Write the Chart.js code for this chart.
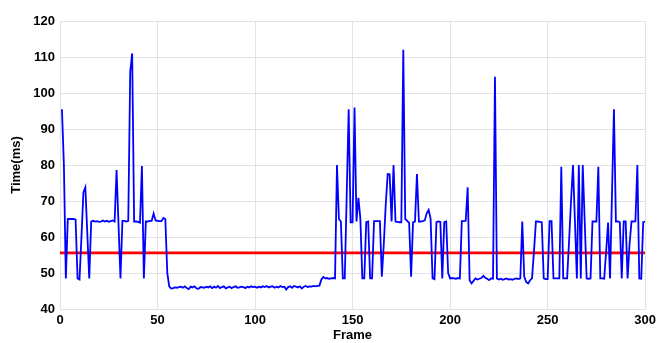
<!DOCTYPE html>
<html>
<head>
<meta charset="utf-8">
<script src="https://cdn.jsdelivr.net/npm/chart.js@4/dist/chart.umd.min.js"></script>
<style>
  html, body { margin: 0; padding: 0; background: #fff; }
  #wrap { width: 660px; height: 343px; }
</style>
</head>
<body>
<div id="wrap"><canvas id="grafica" width="660" height="343"></canvas></div>
<script>
// ── Datos: tiempo por frame (ms) ─────────────────────────────────────────────
const timeA = [ // frames 1-100
    95.5, 80, 48.5, 65, 65, 65, 65, 64.8, 48.5, 48.2,
    60, 72.4, 73.8, 61, 48.5, 64.3, 64.5, 64.3, 64.4, 64.2,
    64.3, 64.6, 64.3, 64.5, 64.2, 64.4, 64.6, 64.3, 78.6, 63.5,
    48.5, 64.5, 64.5, 64.3, 64.5, 105.9, 111, 64.3, 64.3, 64.2,
    64.0, 79.7, 48.5, 64.3, 64.3, 64.5, 64.5, 66.5, 64.6, 64.5,
    64.4, 64.4, 65.3, 65.0, 50, 46.3, 45.7, 45.8, 46.0, 45.9,
    46.1, 46.2, 45.9, 46.3, 45.8, 45.5, 46.2, 46.0, 46.3, 45.7,
    45.6, 46.1, 46.0, 45.9, 46.2, 46.0, 46.3, 45.8, 46.2, 45.9,
    46.4, 45.8, 46.1, 46.3, 45.7, 46.0, 46.2, 45.8, 46.1, 46.3,
    45.9, 46.0, 46.2, 46.1, 45.8, 46.2, 46.0, 46.3, 46.1, 46.2
];
const timeB = [ // frames 101-200
    45.9, 46.2, 46.0, 46.3, 46.1, 46.4, 46.0, 46.2, 46.3, 45.9,
    46.2, 46.0, 46.4, 46.1, 46.2, 45.4, 46.1, 46.3, 45.9, 46.4,
    46.2, 46.0, 46.3, 45.7, 46.2, 46.4, 46.1, 46.3, 46.2, 46.4,
    46.3, 46.4, 46.5, 48.2, 48.9, 48.5, 48.6, 48.4, 48.5, 48.6,
    48.5, 80, 65, 64.3, 48.5, 48.5, 72, 95.5, 64.1, 64.1,
    96, 64.3, 70.9, 65, 48.5, 48.5, 64.1, 64.3, 48.5, 48.5,
    64.4, 64.4, 64.4, 64.4, 49, 58, 69, 77.5, 77.4, 64.3,
    80, 64.3, 64.2, 64.1, 64.1, 112, 65, 64.5, 63.9, 49,
    64.1, 64.3, 77.5, 64.3, 64.3, 64.4, 64.6, 66.6, 67.5, 65.1,
    48.5, 48.3, 64.1, 64.3, 64.2, 48.5, 64.1, 64.3, 50, 48.5
];
const timeC = [ // frames 201-300
    48.6, 48.5, 48.4, 48.6, 48.5, 64.4, 64.4, 64.5, 73.8, 48.0,
    47.1, 47.8, 48.5, 48.2, 48.4, 48.6, 49.2, 48.7, 48.4, 48.0,
    48.5, 48.4, 104.5, 48.5, 48.2, 48.4, 48.1, 48.3, 48.5, 48.2,
    48.3, 48.1, 48.4, 48.5, 48.3, 48.5, 64.3, 49, 47.5, 47.1,
    48.0, 48.5, 56, 64.3, 64.3, 64.2, 64.1, 48.5, 48.3, 48.3,
    64.4, 64.4, 48.5, 48.5, 48.5, 48.5, 79.5, 48.5, 48.5, 48.5,
    59, 70, 80, 64.4, 48.5, 80, 48.5, 80, 64.5, 48.5,
    48.4, 48.5, 64.3, 64.3, 64.3, 79.5, 48.5, 48.5, 48.4, 56,
    64, 48.5, 72, 95.5, 64.3, 64.3, 64.1, 48.5, 64.3, 64.3,
    48.5, 58, 64.3, 64.3, 64.4, 80, 48.5, 48.4, 64.1, 64.3
];
const meanMs     = 55.6;              // línea roja (promedio)
const frameRange = [0, 300];
const xTicks     = [0, 50, 100, 150, 200, 250, 300];
const yTicks     = [40, 50, 60, 70, 80, 90, 100, 110, 120];

const timeMs = timeA.concat(timeB, timeC);
const frames = timeMs.map((_, i) => i + 1);

// ── Gráfica ──────────────────────────────────────────────────────────────────
const fontTick  = { family: 'Liberation Sans, Arial, sans-serif', size: 13, weight: 'bold' };
const gridColor = '#e3e3e3';

new Chart(document.getElementById('grafica'), {
    type: 'line',
    data: {
        datasets: [
            {
                label: 'Time',
                data: frames.map((f, i) => ({ x: f, y: timeMs[i] })),
                borderColor: '#0000ff',
                borderWidth: 1.8,
                pointRadius: 0,
                tension: 0,
            },
            {
                label: 'Mean',
                data: frameRange.map(f => ({ x: f, y: meanMs })),
                borderColor: '#ff0000',
                borderWidth: 2.6,
                pointRadius: 0,
            }
        ]
    },
    options: {
        responsive: false,
        animation: false,
        events: [],
        layout: { padding: { top: 21, right: 14, left: 0, bottom: 0 } },
        plugins: { legend: { display: false }, tooltip: { enabled: false } },
        scales: {
            x: {
                type: 'linear',
                min: frameRange[0],
                max: frameRange[1],
                afterBuildTicks: s => { s.ticks = xTicks.map(v => ({ value: v })); },
                afterFit: s => { s.height = 34; },
                grid: { color: gridColor, drawTicks: false },
                border: { color: gridColor },
                ticks: { font: fontTick, color: '#000', padding: 4, maxRotation: 0 },
                title: {
                    display: true, text: 'Frame', color: '#000',
                    font: fontTick, padding: { top: 0, bottom: 0 }
                }
            },
            y: {
                min: yTicks[0],
                max: yTicks[yTicks.length - 1],
                afterBuildTicks: s => { s.ticks = yTicks.map(v => ({ value: v })); },
                afterFit: s => { s.width = 60; },
                grid: { color: gridColor, drawTicks: false },
                border: { color: gridColor },
                ticks: { font: fontTick, color: '#000', padding: 5 },
                title: {
                    display: true, text: 'Time(ms)', color: '#000',
                    font: fontTick, padding: { top: 9, bottom: 0 }
                }
            }
        }
    },
    plugins: [{
        // marco superior y derecho como en la figura original
        id: 'marco',
        afterDraw(chart) {
            const { ctx, chartArea: a } = chart;
            ctx.save();
            ctx.strokeStyle = gridColor;
            ctx.lineWidth = 1;
            ctx.beginPath();
            ctx.moveTo(a.left, a.top + 0.5);
            ctx.lineTo(a.right + 0.5, a.top + 0.5);
            ctx.lineTo(a.right + 0.5, a.bottom);
            ctx.stroke();
            ctx.restore();
        }
    }]
});
</script>
</body>
</html>
